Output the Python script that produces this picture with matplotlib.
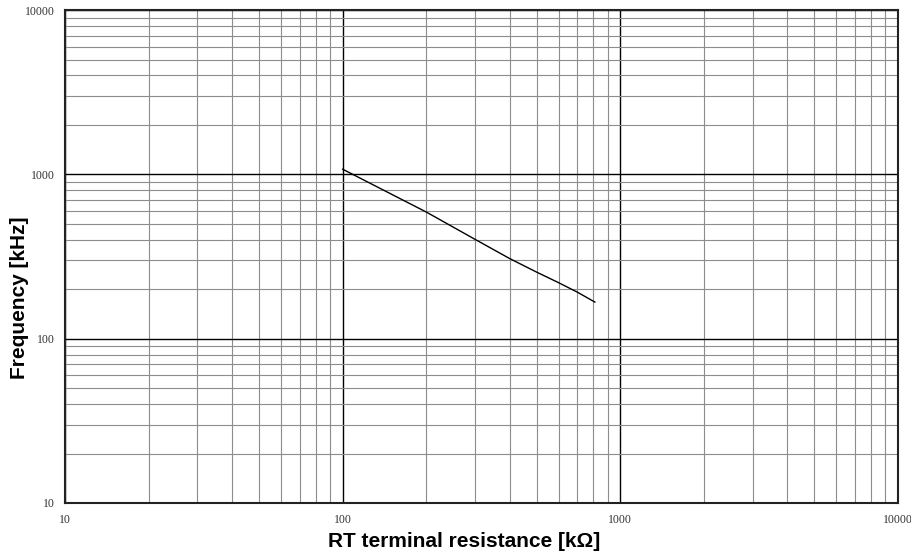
import matplotlib
matplotlib.use('Agg')
import matplotlib.pyplot as plt
from matplotlib.ticker import FixedLocator, FixedFormatter, LogLocator, NullFormatter

# RT resistance (kOhm) vs oscillator frequency (kHz)
rt_kohm = [100, 200, 300, 400, 500, 600, 700, 810]
freq_khz = [1075, 590, 402, 307, 254, 219, 192, 167]

major_ticks = [10, 100, 1000, 10000]
major_labels = ['10', '100', '1000', '10000']

fig = plt.figure(figsize=(9.12, 5.59), dpi=100)
ax = fig.add_axes([0.0713, 0.1002, 0.9133, 0.8818])

ax.plot(rt_kohm, freq_khz, color='black', lw=1.0)

ax.set_xscale('log')
ax.set_yscale('log')
ax.set_xlim(10, 10000)
ax.set_ylim(10, 10000)

for axis in (ax.xaxis, ax.yaxis):
    axis.set_major_locator(FixedLocator(major_ticks))
    axis.set_major_formatter(FixedFormatter(major_labels))
    axis.set_minor_locator(LogLocator(base=10, subs=range(2, 10)))
    axis.set_minor_formatter(NullFormatter())

ax.grid(which='minor', color='#8c8c8c', lw=0.8)
ax.grid(which='major', color='black', lw=1.0)
ax.set_axisbelow(True)
ax.tick_params(which='both', length=0)
ax.tick_params(axis='x', pad=8)
ax.tick_params(axis='y', pad=7)
for lab in ax.get_xticklabels() + ax.get_yticklabels():
    lab.set_fontfamily('Liberation Serif')
    lab.set_fontsize(8.5)
    lab.set_color('#333333')

for s in ax.spines.values():
    s.set_linewidth(1.5)
    s.set_color('#222222')

ax.set_xlabel('RT terminal resistance [kΩ]', fontfamily='Liberation Sans',
              fontweight='bold', fontsize=15)
ax.set_ylabel('Frequency [kHz]', fontfamily='Liberation Sans',
              fontweight='bold', fontsize=15)
ax.xaxis.set_label_coords(0.479, -0.058)
ax.yaxis.set_label_coords(-0.043, 0.416)

plt.savefig('out.png', dpi=100)
